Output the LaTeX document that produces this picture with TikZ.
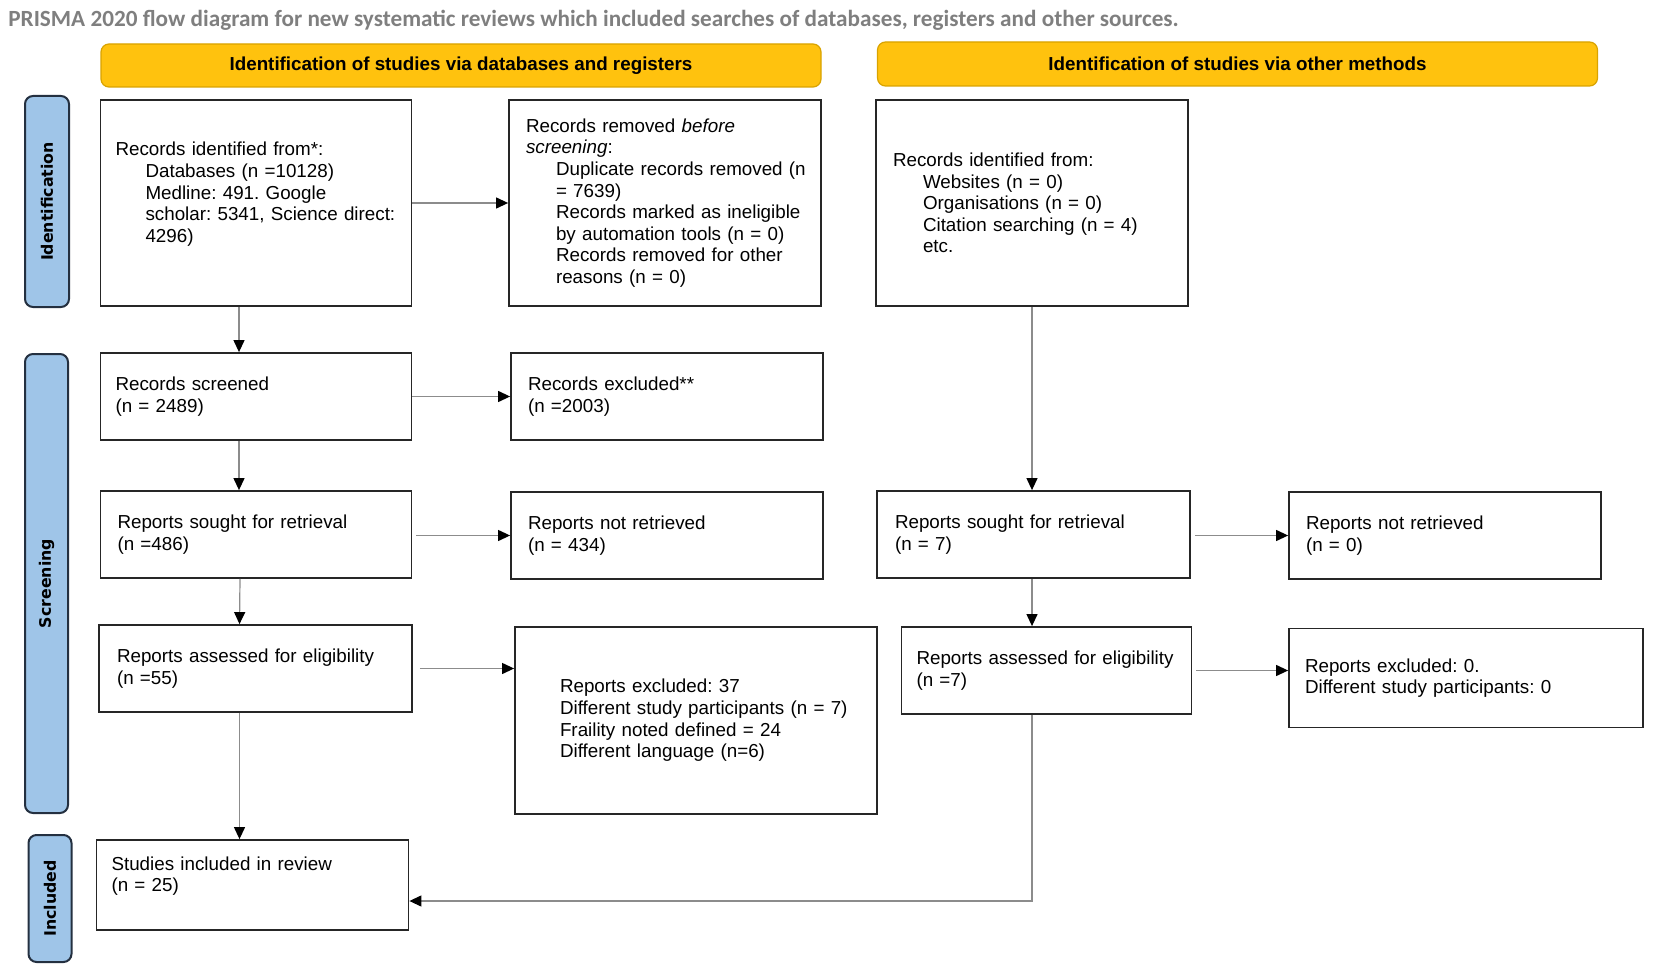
\documentclass[tikz,border=0pt]{standalone}
\usepackage{fontspec}
\setmainfont{Liberation Sans}
\newfontfamily\titlefont{Carlito}
\newfontfamily\phasefont{DejaVu Sans}
\usetikzlibrary{arrows.meta}
\usepackage{xcolor}
\definecolor{PrGold}{HTML}{FFC20E}
\definecolor{PrGoldEdge}{HTML}{D9A300}
\definecolor{PrBlue}{HTML}{9FC5E8}
\definecolor{PrNavy}{HTML}{243040}
\definecolor{Muted}{HTML}{7F7F7F}
\definecolor{LineGrey}{HTML}{8C8C8C}
\frenchspacing
\newcommand{\prind}{\hspace*{15pt}}
\tikzset{
  rec/.style={draw=black!85, line width=0.9pt, fill=white, align=left,
              inner xsep=0pt, inner ysep=3pt, font=\fontsize{9.4}{10.8}\selectfont},
  lpad/.style={execute at begin node={\leftskip=#1\relax}},
  band/.style={draw=PrGoldEdge, line width=0.6pt, fill=PrGold, rounded corners=4pt,
               font=\fontsize{9.4}{10.8}\selectfont\bfseries},
  phase/.style={draw=PrNavy, line width=1pt, fill=PrBlue, rounded corners=4pt,
                rotate=90, font=\phasefont\fontsize{7.9}{9}\selectfont\bfseries},
  flow/.style={-{Triangle[length=6pt,width=5.5pt,color=black]}, line width=0.6pt, LineGrey},
}

\begin{document}
\begin{tikzpicture}[x=0.5pt, y=-0.5pt]
  \useasboundingbox (0,0) rectangle (1654,973);
  % title and column heads
  \node[anchor=west, inner sep=0pt, text=Muted, font=\titlefont\fontsize{11.6}{13.6}\selectfont\bfseries] (title) at (8,20)
    {PRISMA 2020 flow diagram for new systematic reviews which included searches of databases, registers and other sources.};
  \node[band, minimum width=360pt, minimum height=21.5pt] (hdDb) at (461,65.5) {Identification of studies via databases and registers};
  \node[band, minimum width=360pt, minimum height=22pt] (hdOther) at (1237.5,64) {Identification of studies via other methods};
  % phases
  \node[phase, minimum width=105.5pt, minimum height=22pt] (phId) at (47,201.5) {Identification};
  \node[phase, minimum width=229.5pt, minimum height=21.5pt] (phScr) at (46.5,583.5) {Screening};
  \node[phase, minimum width=63.5pt, minimum height=21.5pt] (phInc) at (50,898.5) {Included};
  % databases and registers
  \node[rec, lpad=7.5pt, text width=155.5pt, minimum height=103pt] (idDb) at (256,203)
    {Records identified from*:\\ \prind Databases (n =10128)\\ \prind Medline: 491. Google\\ \prind scholar: 5341, Science direct:\\ \prind 4296)\\ \mbox{}};
  \node[rec, lpad=8.5pt, text width=156pt, minimum height=103pt] (removed) at (665,203)
    {Records removed \textit{before}\\ \textit{screening}:\\ \prind Duplicate records removed (n\\ \prind = 7639)\\ \prind Records marked as ineligible\\ \prind by automation tools (n = 0)\\ \prind Records removed for other\\ \prind reasons (n = 0)};
  \node[rec, lpad=7.5pt, text width=155.5pt, minimum height=43.5pt] (screened) at (256,396.5)
    {Records screened\\ (n = 2489)};
  \node[rec, lpad=8.5pt, text width=156pt, minimum height=43.5pt] (excluded) at (667,396.5)
    {Records excluded**\\ (n =2003)};
  \node[rec, lpad=8.5pt, text width=155.5pt, minimum height=43.5pt] (sought) at (256,534.5)
    {Reports sought for retrieval\\ (n =486)};
  \node[rec, lpad=8.5pt, text width=156pt, minimum height=43.5pt] (notRet) at (667,535.5)
    {Reports not retrieved\\ (n = 434)};
  \node[rec, lpad=9pt, text width=156.5pt, minimum height=43.5pt] (assessed) at (255.5,668.5)
    {Reports assessed for eligibility\\ (n =55)};
  \node[rec, lpad=22.5pt, text width=181pt, minimum height=93.5pt] (exclRep) at (696,720.5)
    {Reports excluded: 37\\ Different study participants (n = 7)\\ Fraility noted defined = 24\\ Different language (n=6)};
  \node[rec, lpad=7.5pt, text width=156pt, minimum height=45pt] (included) at (252.5,885)
    {Studies included in review\\ (n = 25)\\ \mbox{}};
  % other methods
  \node[rec, lpad=8.5pt, text width=156pt, minimum height=103pt] (idOther) at (1032,203)
    {Records identified from:\\ \prind Websites (n = 0)\\ \prind Organisations (n = 0)\\ \prind Citation searching (n = 4)\\ \prind etc.};
  \node[rec, lpad=9pt, text width=156.5pt, minimum height=43.5pt] (soughtO) at (1033.5,534.5)
    {Reports sought for retrieval\\ (n = 7)};
  \node[rec, lpad=8.5pt, text width=156pt, minimum height=43.5pt] (notRetO) at (1445,535.5)
    {Reports not retrieved\\ (n = 0)};
  \node[rec, lpad=7.5pt, text width=145pt, minimum height=43.5pt] (assessedO) at (1046.5,670.5)
    {Reports assessed for eligibility\\ (n =7)};
  \node[rec, lpad=8pt, text width=177pt, minimum height=49.5pt] (exclO) at (1466,678)
    {Reports excluded: 0.\\ Different study participants: 0};
  % connectors
  \draw[flow] (idDb) -- (removed);
  \draw[flow] ([xshift=-8.5pt]idDb.south) -- ([xshift=-8.5pt]screened.north);
  \draw[flow] (screened) -- (excluded);
  \draw[flow] ([xshift=-8.5pt]screened.south) -- ([xshift=-8.5pt]sought.north);
  \draw[flow] ([xshift=2pt]sought.east |- notRet) -- (notRet.west);
  \draw[flow] ([xshift=-8pt]sought.south) -- ([xshift=-8pt]assessed.north);
  \draw[flow] ([xshift=3.5pt]assessed.east) -- (assessed.east -| exclRep.west);
  \draw[flow] ([xshift=-8pt]assessed.south) -- ([xshift=-8pt]assessed.south |- included.north);
  \draw[flow] (idOther) -- (idOther |- soughtO.north);
  \draw[flow] ([xshift=2pt]soughtO.east |- notRetO) -- (notRetO.west);
  \draw[flow] (soughtO.south -| idOther) -- (idOther |- assessedO.north);
  \draw[flow] ([xshift=2pt]assessedO.east) -- (assessedO.east -| exclO.west);
  \draw[flow] (assessedO.south -| idOther) |- ([yshift=-8pt]included.east);
\end{tikzpicture}
\end{document}
